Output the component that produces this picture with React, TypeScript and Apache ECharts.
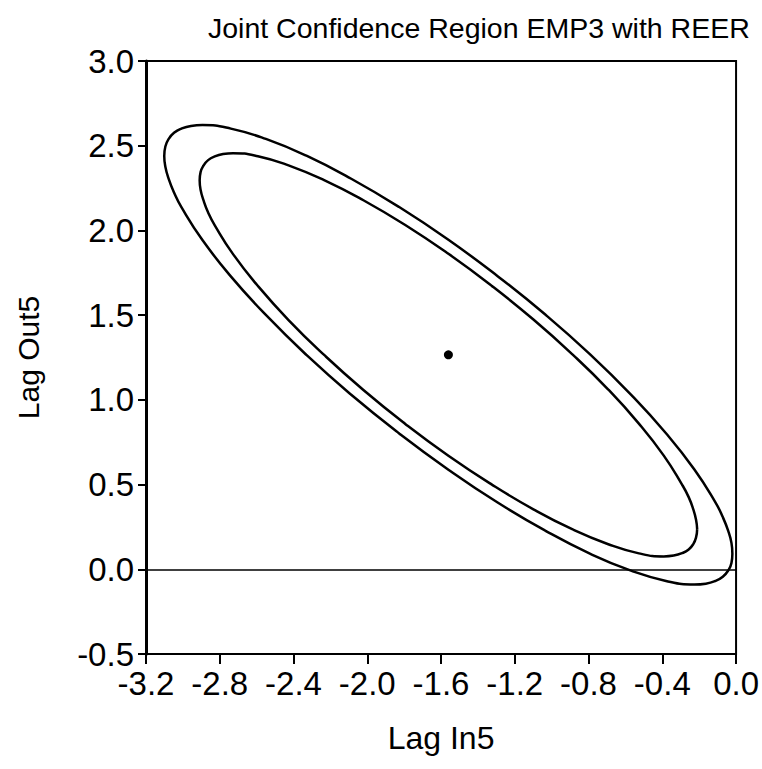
import React, { useEffect, useRef } from "react";
import * as echarts from "echarts";

const titleText = "Joint Confidence Region EMP3 with REER";
const xAxisName = "Lag In5";
const yAxisName = "Lag Out5";

// point estimate
const centerPoint: [number, number] = [-1.56, 1.266];

// outer confidence boundary
const outerEllipse: [number, number][] = [
  [-0.020, 0.092], [-0.025, 0.037], [-0.043, -0.008], [-0.072, -0.044],
  [-0.112, -0.069], [-0.164, -0.085], [-0.226, -0.090],
  [-0.380, -0.069], [-0.570, -0.008], [-0.790, 0.091], [-1.033, 0.227],
  [-1.293, 0.394], [-1.560, 0.588], [-1.827, 0.802], [-2.087, 1.030],
  [-2.330, 1.265], [-2.550, 1.501], [-2.740, 1.729], [-2.894, 1.943],
  [-3.008, 2.137], [-3.048, 2.224], [-3.077, 2.304], [-3.095, 2.376],
  [-3.101, 2.440], [-3.095, 2.495], [-3.077, 2.540], [-3.048, 2.576],
  [-3.008, 2.601], [-2.956, 2.617], [-2.894, 2.622], [-2.740, 2.601],
  [-2.550, 2.540], [-2.330, 2.441], [-2.087, 2.305], [-1.827, 2.138],
  [-1.560, 1.945], [-1.293, 1.730], [-1.033, 1.502], [-0.790, 1.267],
  [-0.570, 1.031], [-0.380, 0.803], [-0.226, 0.589], [-0.112, 0.395],
  [-0.072, 0.308], [-0.043, 0.228], [-0.025, 0.156], [-0.020, 0.092],
];

// inner confidence boundary
const innerEllipse: [number, number][] = [
  [-0.211, 0.237], [-0.217, 0.188], [-0.232, 0.149], [-0.257, 0.117],
  [-0.293, 0.095], [-0.338, 0.081], [-0.392, 0.076],
  [-0.527, 0.094], [-0.693, 0.148], [-0.886, 0.235], [-1.099, 0.354],
  [-1.326, 0.501], [-1.560, 0.670], [-1.794, 0.858], [-2.021, 1.058],
  [-2.234, 1.265], [-2.427, 1.471], [-2.593, 1.672], [-2.728, 1.860],
  [-2.827, 2.030], [-2.863, 2.106], [-2.888, 2.177], [-2.904, 2.240],
  [-2.909, 2.296], [-2.904, 2.344], [-2.888, 2.383], [-2.863, 2.415],
  [-2.827, 2.437], [-2.782, 2.451], [-2.728, 2.456], [-2.593, 2.438],
  [-2.427, 2.384], [-2.234, 2.297], [-2.021, 2.178], [-1.794, 2.032],
  [-1.560, 1.862], [-1.326, 1.674], [-1.099, 1.474], [-0.886, 1.267],
  [-0.693, 1.061], [-0.527, 0.860], [-0.392, 0.671], [-0.293, 0.500],
  [-0.257, 0.426], [-0.232, 0.354], [-0.217, 0.292], [-0.211, 0.237],
];

const xRange = { min: -3.2, max: 0.0, interval: 0.4 };
const yRange = { min: -0.5, max: 3.0, interval: 0.5 };
const zeroLineY = 0;

const FONT = "'Liberation Sans', Arial, sans-serif";

const fmt = (v: number) => (Math.abs(v) < 1e-9 ? 0 : v).toFixed(1);

export default function App() {
  const ref = useRef<HTMLDivElement>(null);

  useEffect(() => {
    document.body.style.margin = "0";
    if (!ref.current) return;
    const chart = echarts.init(ref.current, undefined, { renderer: "svg" });
    chart.setOption({
      animation: false,
      backgroundColor: "#ffffff",
      title: {
        text: titleText,
        left: 203,
        top: 8,
        textStyle: {
          fontFamily: FONT,
          fontSize: 28.5,
          fontWeight: "normal",
          color: "#000",
        },
      },
      grid: {
        left: 146,
        right: 24,
        top: 61,
        bottom: 115,
        show: true,
        borderColor: "#000",
        borderWidth: 2,
        backgroundColor: "#fff",
      },
      xAxis: {
        type: "value",
        min: xRange.min,
        max: xRange.max,
        interval: xRange.interval,
        name: xAxisName,
        nameLocation: "middle",
        nameGap: 68,
        nameTextStyle: { fontFamily: FONT, fontSize: 32, color: "#000" },
        axisLine: { show: true, onZero: false, lineStyle: { color: "#000", width: 2 } },
        axisTick: { show: true, inside: false, length: 10, lineStyle: { color: "#000", width: 2 } },
        axisLabel: {
          fontFamily: FONT,
          fontSize: 33,
          color: "#000",
          margin: 13,
          formatter: fmt,
        },
        splitLine: { show: false },
      },
      yAxis: {
        type: "value",
        min: yRange.min,
        max: yRange.max,
        interval: yRange.interval,
        name: yAxisName,
        nameLocation: "middle",
        nameGap: 103,
        nameTextStyle: { fontFamily: FONT, fontSize: 30, color: "#000" },
        axisLine: { show: true, onZero: false, lineStyle: { color: "#000", width: 3 } },
        axisTick: { show: true, inside: false, length: 8, lineStyle: { color: "#000", width: 2 } },
        axisLabel: {
          fontFamily: FONT,
          fontSize: 33,
          color: "#000",
          margin: 12,
          formatter: fmt,
        },
        splitLine: { show: false },
      },
      series: [
        {
          type: "line",
          name: "outer",
          data: outerEllipse,
          smooth: true,
          showSymbol: false,
          lineStyle: { color: "#000", width: 2.5 },
          markLine: {
            silent: true,
            symbol: ["none", "none"],
            label: { show: false },
            lineStyle: { color: "#000", width: 1.5, type: "solid" },
            data: [{ yAxis: zeroLineY }],
          },
        },
        {
          type: "line",
          name: "inner",
          data: innerEllipse,
          smooth: true,
          showSymbol: false,
          lineStyle: { color: "#000", width: 2.5 },
        },
        {
          type: "scatter",
          name: "estimate",
          data: [centerPoint],
          symbol: "circle",
          symbolSize: 9,
          itemStyle: { color: "#000", opacity: 1 },
        },
      ],
    });
    return () => chart.dispose();
  }, []);

  return <div ref={ref} style={{ width: 762, height: 769 }} />;
}
